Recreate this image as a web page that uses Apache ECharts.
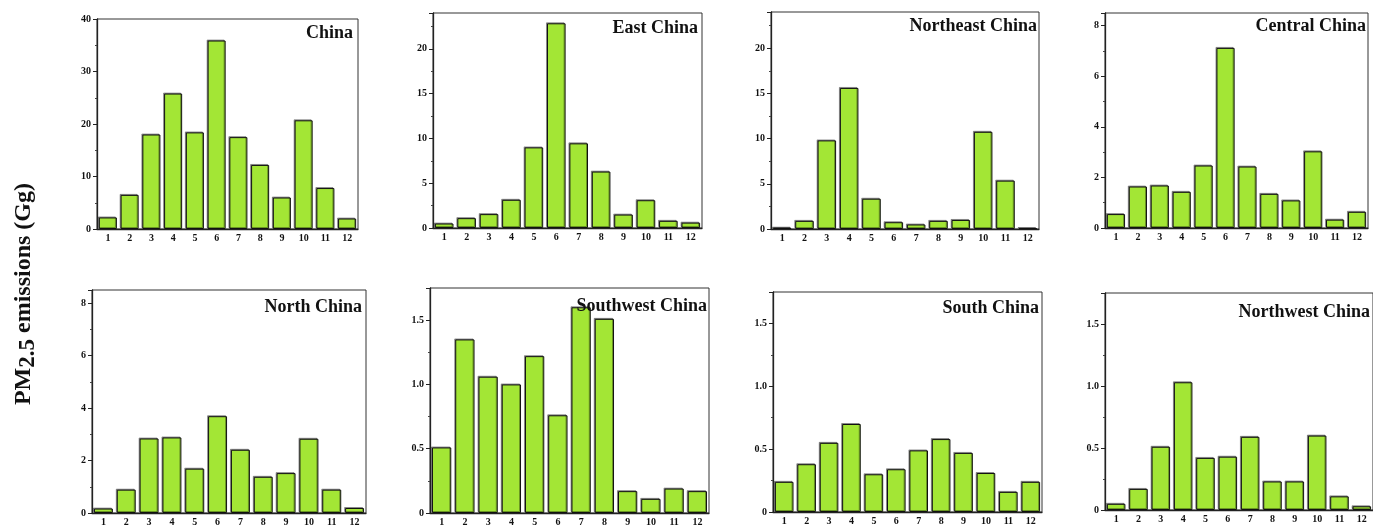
<!DOCTYPE html>
<html>
<head>
<meta charset="utf-8">
<script src="https://cdn.jsdelivr.net/npm/echarts@6/dist/echarts.min.js"></script>
<style>
html,body{margin:0;padding:0;background:#fff;}
#main{width:1373px;height:527px;}
</style>
</head>
<body>
<div id="main"></div>
<script>
// ---- data ----
const months = ['1','2','3','4','5','6','7','8','9','10','11','12'];
const regionNames = ['China','East China','Northeast China','Central China','North China','Southwest China','South China','Northwest China'];
const china     = [2.2, 6.5, 18.0, 25.8, 18.4, 35.9, 17.5, 12.2, 6.0, 20.7, 7.8, 2.0];
const eastChina = [0.5, 1.1, 1.55, 3.15, 9.0, 22.85, 9.45, 6.3, 1.5, 3.1, 0.8, 0.6];
const northeastChina = [0.15, 0.9, 9.8, 15.6, 3.35, 0.75, 0.5, 0.9, 1.0, 10.75, 5.35, 0.08];
const centralChina = [0.55, 1.64, 1.68, 1.43, 2.47, 7.12, 2.43, 1.35, 1.09, 3.03, 0.33, 0.64];
const northChina = [0.17, 0.89, 2.84, 2.88, 1.69, 3.69, 2.41, 1.38, 1.52, 2.83, 0.89, 0.19];
const southwestChina = [0.51, 1.35, 1.06, 1.0, 1.22, 0.76, 1.6, 1.51, 0.17, 0.11, 0.19, 0.17];
const southChina = [0.24, 0.38, 0.55, 0.70, 0.30, 0.34, 0.49, 0.58, 0.47, 0.31, 0.16, 0.24];
const northwestChina = [0.05, 0.17, 0.51, 1.03, 0.42, 0.43, 0.59, 0.23, 0.23, 0.60, 0.11, 0.03];
const seriesData = [china, eastChina, northeastChina, centralChina, northChina, southwestChina, southChina, northwestChina];
const yMax = [40, 24, 24, 8.5, 8.5, 1.75, 1.75, 1.75];
const yInterval = [10, 5, 5, 2, 2, 0.5, 0.5, 0.5];
const yDecimals = [0, 0, 0, 0, 0, 1, 1, 1];

// ---- layout ----
const W = 1373;
const grids = [
  {left: 97,  top: 19,  width: 261, height: 210},
  {left: 433, top: 13,  width: 269, height: 215},
  {left: 771, top: 12,  width: 268, height: 217},
  {left: 1105,top: 13,  width: 263, height: 215},
  {left: 92,  top: 290, width: 274, height: 223},
  {left: 430, top: 288, width: 279, height: 226},
  {left: 773, top: 292, width: 269, height: 220},
  {left: 1105,top: 293, width: 269, height: 217}
];
const titlePos = [
  {r: 353, c: 33}, {r: 698, c: 28}, {r: 1037, c: 26}, {r: 1366, c: 26},
  {r: 362, c: 307}, {r: 707, c: 306}, {r: 1039, c: 308}, {r: 1370, c: 312}
];
const FONT = '"Liberation Serif", "Times New Roman", serif';

const option = {
  animation: false,
  backgroundColor: '#fff',
  textStyle: {fontFamily: FONT},
  title: regionNames.map((n, i) => ({
    text: n,
    right: W - titlePos[i].r,
    top: titlePos[i].c - 9,
    padding: 0,
    z: 10,
    textStyle: {fontFamily: FONT, fontWeight: 'bold', fontSize: 18, color: '#111', lineHeight: 18}
  })),
  grid: grids.map(g => Object.assign({show: true, borderColor: '#333', borderWidth: 1, backgroundColor: 'transparent'}, g)),
  xAxis: grids.map((g, i) => ({
    type: 'category', gridIndex: i, data: months,
    axisLine: {lineStyle: {color: '#222', width: 1.3}},
    axisTick: {alignWithLabel: true, length: 3, lineStyle: {color: '#222'}},
    axisLabel: {fontFamily: FONT, fontWeight: 'bold', fontSize: 10, color: '#111', margin: 4, interval: 0}
  })),
  yAxis: grids.map((g, i) => ({
    type: 'value', gridIndex: i, min: 0, max: yMax[i], interval: yInterval[i],
    axisLine: {show: true, lineStyle: {color: '#222', width: 1.3}},
    axisTick: {show: true, length: 4, lineStyle: {color: '#222'}},
    minorTick: {show: true, splitNumber: 2, length: 2, lineStyle: {color: '#444'}},
    splitLine: {show: false},
    axisLabel: {
      fontFamily: FONT, fontWeight: 'bold', fontSize: 10, color: '#111', margin: 6,
      showMaxLabel: yMax[i] % yInterval[i] === 0,
      formatter: v => (v === 0 ? '0' : v.toFixed(yDecimals[i]))
    }
  })),
  series: seriesData.map((d, i) => ({
    type: 'bar', xAxisIndex: i, yAxisIndex: i, data: d,
    barCategoryGap: '17%',
    itemStyle: {color: '#a3e635', borderColor: '#111', borderWidth: 1,
      shadowColor: 'rgba(0,0,0,0.35)', shadowOffsetX: -1, shadowOffsetY: -1, shadowBlur: 0}
  })),
  graphic: [{
    type: 'text',
    left: 11, top: 183,
    rotation: Math.PI / 2,
    style: {
      text: '{a|PM}{b|2.5}{a| emissions (Gg)}',
      rich: {
        a: {fontFamily: FONT, fontWeight: 'bold', fontSize: 24, fill: '#111', verticalAlign: 'top', lineHeight: 28},
        b: {fontFamily: FONT, fontWeight: 'bold', fontSize: 23, fill: '#111', verticalAlign: 'bottom', lineHeight: 28, padding: [6, 0, 0, 0]}
      }
    }
  }]
};
const chart = echarts.init(document.getElementById('main'));
chart.setOption(option);
</script>
</body>
</html>
